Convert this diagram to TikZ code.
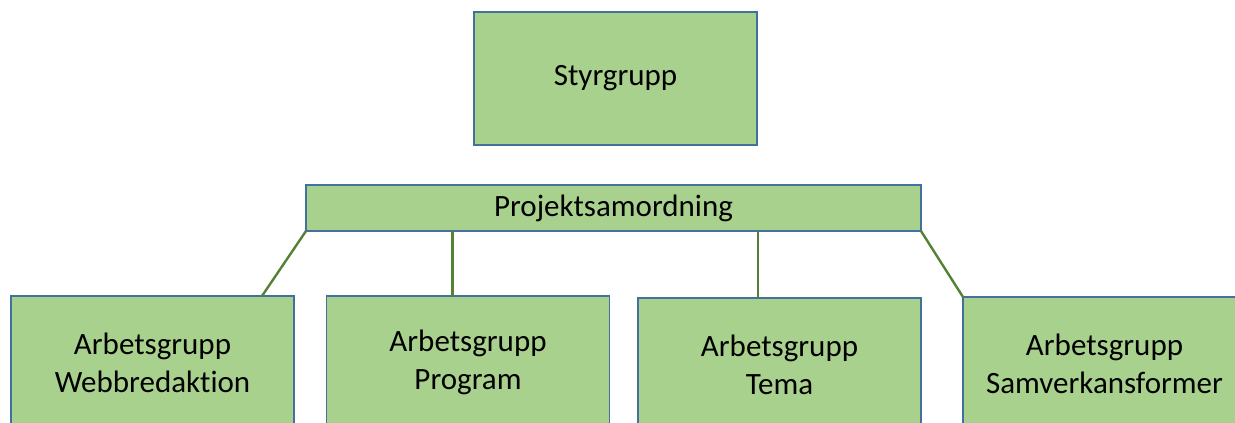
\documentclass[tikz,border=0pt]{standalone}
\usepackage{fontspec}
\setmainfont{Carlito}[Ligatures=NoCommon]
\definecolor{boxFill}{HTML}{A9D18E}
\definecolor{boxLine}{HTML}{41719C}
\definecolor{linkLine}{HTML}{548235}
\begin{document}
\begin{tikzpicture}[
            x=1pt, y=-1pt,
            gBox/.style={draw=boxLine, fill=boxFill, line width=1.3pt, rectangle, align=center,
                inner sep=0pt, outer sep=0pt, minimum width=283pt, minimum height=133pt,
                font=\fontsize{31}{38}\selectfont},
            gLink/.style={draw=linkLine, line width=2.4pt}
        ]

        \useasboundingbox (0,0) rectangle (1235,423);
        \clip (0,0) rectangle (1235,423);

        \node [gBox] (styr) at (615.5,78.5) {Styrgrupp};
        \node [gBox, minimum width=615pt, minimum height=46pt] (proj) at (613.5,208) {Projektsamordning};

        % arbetsgrupper
        \node [gBox] (web) at (152.5,362.5) {Arbetsgrupp\\Webbredaktion};
        \node [gBox] (prog) at (468,362.5) {Arbetsgrupp\\Program};
        \node [gBox] (tema) at (779.5,364.5) {Arbetsgrupp\\Tema};
        \node [gBox] (samv) at (1104.5,363.5) {Arbetsgrupp\\Samverkansformer};

        \coordinate (webTop) at ([xshift=-32pt]web.north east);
        \coordinate (progTop) at ([xshift=126pt]prog.north west);
        \coordinate (temaTop) at ([xshift=120pt]tema.north west);

        \draw [gLink] (proj.south west) -- (webTop);
        \draw [gLink] (progTop |- proj.south) -- (progTop);
        \draw [gLink] (temaTop |- proj.south) -- (temaTop);
        \draw [gLink] (proj.south east) -- (samv.north west);

    \end{tikzpicture}
\end{document}
